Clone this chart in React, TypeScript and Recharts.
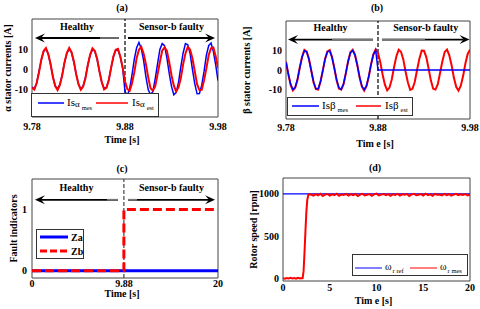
import React from 'react';
import { LineChart, Line, XAxis, YAxis, ReferenceLine, ReferenceArea, Legend } from 'recharts';

const FONT = '"Liberation Serif", "Times New Roman", Times, serif';

// ---------- panel (a) / (b) : stator currents, time 9.78 .. 9.98 s ----------
const timeFast = [
  9.78, 9.7825, 9.785, 9.7875, 9.79, 9.7925, 9.795, 9.7975, 9.8, 9.8025,
  9.805, 9.8075, 9.81, 9.8125, 9.815, 9.8175, 9.82, 9.8225, 9.825, 9.8275,
  9.83, 9.8325, 9.835, 9.8375, 9.84, 9.8425, 9.845, 9.8475, 9.85, 9.8525,
  9.855, 9.8575, 9.86, 9.8625, 9.865, 9.8675, 9.87, 9.8725, 9.875, 9.8775,
  9.88, 9.8825, 9.885, 9.8875, 9.89, 9.8925, 9.895, 9.8975, 9.9, 9.9025,
  9.905, 9.9075, 9.91, 9.9125, 9.915, 9.9175, 9.92, 9.9225, 9.925, 9.9275,
  9.93, 9.9325, 9.935, 9.9375, 9.94, 9.9425, 9.945, 9.9475, 9.95, 9.9525,
  9.955, 9.9575, 9.96, 9.9625, 9.965, 9.9675, 9.97, 9.9725, 9.975, 9.9775,
  9.98,
];
const alphaMes = [
  -9.0, -9.9, -7.1, -1.2, 4.3, 8.9, 10.0, 7.6, 2.0, -3.7,
  -8.6, -9.8, -7.7, -2.7, 3.3, 7.9, 9.9, 8.2, 3.4, -2.6,
  -7.5, -10.1, -8.5, -4.1, 1.9, 7.0, 9.7, 8.9, 4.8, -1.0,
  -6.6, -9.6, -9.3, -5.4, 0.4, 6.0, 9.5, 9.4, 6.2, 0.3,
  -11.3, -13.2, -9.8, -3.0, 4.9, 10.6, 13.3, 10.2, 4.3, -3.9,
  -10.4, -12.8, -11.2, -4.8, 2.6, 9.8, 12.7, 11.7, 5.7, -2.1,
  -8.7, -12.9, -11.7, -6.9, 1.1, 8.0, 12.7, 12.1, 7.7, -0.2,
  -7.3, -12.4, -12.3, -8.1, -1.2, 6.9, 11.7, 13.0, 8.8, 2.2,
  -5.8,
];
const alphaEst = [
  -9.4, -10.3, -7.0, -1.8, 4.8, 9.0, 10.5, 7.4, 2.5, -4.1,
  -8.5, -10.5, -8.0, -3.2, 3.4, 8.1, 10.5, 8.4, 3.9, -2.7,
  -7.6, -10.4, -8.8, -4.6, 2.0, 7.1, 10.3, 9.1, 5.3, -1.2,
  -6.5, -10.2, -9.4, -5.9, 0.5, 6.3, 9.6, 10.1, 6.1, 0.7,
  -6.1, -10.0, -10.9, -7.2, -1.6, 5.4, 9.6, 11.1, 7.8, 2.4,
  -4.3, -9.6, -10.8, -8.7, -2.7, 3.5, 9.2, 10.8, 9.2, 3.5,
  -3.1, -8.3, -11.2, -9.2, -4.7, 2.3, 7.8, 11.1, 9.6, 5.4,
  -1.1, -7.6, -10.5, -10.4, -5.7, 0.3, 7.0, 10.3, 10.7, 6.4,
  0.5,
];
const betaMes = [
  4.0, -1.8, -7.2, -9.9, -8.9, -4.6, 1.1, 6.7, 9.8, 9.2,
  5.3, -0.5, -6.1, -9.6, -9.5, -5.9, -0.3, 5.5, 9.3, 9.7,
  6.5, 1.0, -4.9, -9.0, -9.9, -7.1, -1.7, 4.3, 8.7, 9.9,
  7.6, 2.4, -3.6, -8.3, -10.0, -8.0, -3.1, 2.9, 7.9, 10.0,
  0, 0, 0, 0, 0, 0, 0, 0, 0, 0,
  0, 0, 0, 0, 0, 0, 0, 0, 0, 0,
  0, 0, 0, 0, 0, 0, 0, 0, 0, 0,
  0, 0, 0, 0, 0, 0, 0, 0, 0, 0,
  0,
];
const betaEst = [
  4.3, -2.1, -7.6, -10.4, -9.1, -5.0, 1.4, 6.8, 10.3, 9.4,
  5.6, -0.4, -6.4, -9.8, -10.0, -6.0, -0.3, 5.8, 9.5, 10.2,
  6.6, 1.1, -5.2, -9.5, -10.0, -7.4, -1.7, 4.5, 9.1, 10.3,
  7.7, 2.6, -3.8, -8.5, -10.5, -8.2, -3.3, 3.1, 8.0, 10.5,
  8.6, 4.0, -2.3, -7.5, -10.4, -9.0, -4.7, 1.6, 7.0, 10.3,
  9.3, 5.4, -0.9, -6.4, -10.1, -9.6, -6.0, 0.1, 5.8, 9.9,
  9.8, 6.6, 0.7, -5.4, -9.6, -10.0, -7.2, -1.4, 4.5, 9.2,
  10.4, 7.5, 2.4, -4.0, -8.6, -10.5, -8.0, -3.1, 3.3, 8.2,
  10.4,
];
const fastTicks = [9.78, 9.88, 9.98];
const currentTicks = [-10, 0, 10];
const faultTime = 9.88;

// ---------- panel (c) : fault indicators ----------
const indicatorTime = [0, 9.88, 9.88, 20];
const zaValues = [0, 0, 0, 0];
const zbValues = [0, 0, 1, 1];
const indicatorXTicks = [0, 9.88, 20];
const indicatorYTicks = [0, 1];

// ---------- panel (d) : rotor speed ----------
const refTime = [0, 20];
const refSpeed = [1000, 1000];
const speedTime = [
  0, 0.2, 0.4, 0.6, 0.8, 1, 1.2, 1.4, 1.6, 1.8, 2, 2.1, 2.2, 2.3, 2.4, 2.5, 2.6, 2.7, 2.8,
  3, 3.25, 3.5, 3.75, 4, 4.25, 4.5, 4.75, 5, 5.25, 5.5, 5.75, 6, 6.25, 6.5, 6.75,
  7, 7.25, 7.5, 7.75, 8, 8.25, 8.5, 8.75, 9, 9.25, 9.5, 9.75, 10, 10.25, 10.5, 10.75,
  11, 11.25, 11.5, 11.75, 12, 12.25, 12.5, 12.75, 13, 13.25, 13.5, 13.75, 14, 14.25, 14.5, 14.75,
  15, 15.25, 15.5, 15.75, 16, 16.25, 16.5, 16.75, 17, 17.25, 17.5, 17.75, 18, 18.25, 18.5, 18.75,
  19, 19.25, 19.5, 19.75, 20,
];
const speedMes = [
  8, 2, 10, 4, 12, 3, 9, 1, 11, 5, 7, 6, 90, 310, 560, 790, 930, 985, 995,
  992, 978, 996, 983, 1000, 975, 990, 998, 980, 994,
  985, 1001, 976, 992, 987, 999, 979, 995, 983, 997,
  974, 991, 1000, 982, 989, 996, 977, 993, 1002, 981,
  990, 998, 984, 995, 976, 993, 986, 1000, 980, 994,
  988, 997, 975, 992, 999, 983, 990, 996, 979, 1001,
  985, 994, 977, 998, 988, 992, 981, 999, 984, 995,
  978, 990, 1000, 983, 993, 987, 997, 980, 991,
];
const speedXTicks = [0, 5, 10, 15, 20];
const speedYTicks = [0, 500, 1000];

const BLUE = '#0000ff';
const RED = '#ff0000';

const dataA = timeFast.map((t, i) => ({ t, mes: alphaMes[i], est: alphaEst[i] }));
const dataB = timeFast.map((t, i) => ({ t, mes: betaMes[i], est: betaEst[i] }));
const dataC = indicatorTime.map((t, i) => ({ t, za: zaValues[i], zb: zbValues[i] }));
const dataRef = refTime.map((t, i) => ({ t, v: refSpeed[i] }));
const dataSpeed = speedTime.map((t, i) => ({ t, v: speedMes[i] }));

const tickStyle = { fontSize: 10, fontFamily: FONT, fontWeight: 'bold', fill: '#000' };

const xLabel = (text: string, baseline: number) => ({
  content: (p: any) => {
    const vb = p.viewBox || {};
    return (
      <text x={vb.x + vb.width / 2 - 3} y={baseline} textAnchor="middle" fontFamily={FONT}
        fontWeight="bold" fontSize={10} fill="#000">{text}</text>
    );
  },
});

const yLabel = (text: any, x: number) => ({
  content: (p: any) => {
    const vb = p.viewBox || {};
    const cy = vb.y + vb.height / 2;
    return (
      <text transform={`translate(${x},${cy}) rotate(-90)`} textAnchor="middle" dominantBaseline="central"
        fontFamily={FONT} fontWeight="bold" fontSize={10} fill="#000">{text}</text>
    );
  },
});

const makeArrow = (label: string, grayLen: number) => (props: any) => {
  const { x1, y1, x2, y2 } = props;
  const dir = x2 > x1 ? 1 : -1;
  const back = x2 - dir * 10;
  const notch = x2 - dir * 6;
  return (
    <g>
      <line x1={x1} y1={y1} x2={notch} y2={y2} stroke="#000" strokeWidth={1.8} />
      {grayLen > 0 && (
        <line x1={x1} y1={y1} x2={x1 + dir * grayLen} y2={y1} stroke="#777" strokeWidth={1.8} />
      )}
      <path d={`M${x2},${y2} L${back},${y2 - 4.5} L${notch},${y2} L${back},${y2 + 4.5} Z`} fill="#000" />
      <text x={(x1 + x2) / 2} y={y1 - 12} textAnchor="middle" dominantBaseline="central"
        fontFamily={FONT} fontWeight="bold" fontSize={10} fill="#000">{label}</text>
    </g>
  );
};

const LegendIs = ({ greek, w, h, b1, b2, lineY, tx1, tx2, greekSmall }: any) => (
  <svg width={w} height={h} style={{ display: 'block' }}>
    <rect x={0.5} y={0.5} width={w - 1} height={h - 1} fill="#fff" stroke="#333" />
    <line x1={b1[0]} x2={b1[1]} y1={lineY} y2={lineY} stroke={BLUE} strokeWidth={1.5} />
    <text x={tx1} y={lineY + 3} fontFamily={FONT} fontSize={11} fill="#000">
      Is<tspan fontSize={greekSmall ? 9 : 11} dy={greekSmall ? 1 : 0}>{greek}</tspan>
      <tspan fontSize={6.5} dy={3} dx={2}>mes</tspan>
    </text>
    <line x1={b2[0]} x2={b2[1]} y1={lineY} y2={lineY} stroke={RED} strokeWidth={1.5} />
    <text x={tx2} y={lineY + 3} fontFamily={FONT} fontSize={11} fill="#000">
      Is<tspan fontSize={greekSmall ? 9 : 11} dy={greekSmall ? 1 : 0}>{greek}</tspan>
      <tspan fontSize={6.5} dy={3} dx={2}>est</tspan>
    </text>
  </svg>
);

const LegendZ = () => (
  <svg width={48} height={30} style={{ display: 'block' }}>
    <rect x={0.5} y={0.5} width={47} height={29} fill="#fff" stroke="#333" />
    <line x1={4} x2={32} y1={8} y2={8} stroke={BLUE} strokeWidth={3} />
    <text x={35} y={11.5} fontFamily={FONT} fontWeight="bold" fontSize={10} fill="#000">Za</text>
    <line x1={4} x2={32} y1={22} y2={22} stroke={RED} strokeWidth={3} strokeDasharray="7 3" />
    <text x={35} y={25.5} fontFamily={FONT} fontWeight="bold" fontSize={10} fill="#000">Zb</text>
  </svg>
);

const LegendW = () => (
  <svg width={116} height={22} style={{ display: 'block' }}>
    <rect x={0.5} y={0.5} width={115} height={21} fill="#fff" stroke="#333" />
    <line x1={3} x2={30} y1={14} y2={14} stroke={BLUE} strokeWidth={1} />
    <text x={33} y={16} fontFamily={FONT} fontSize={10} fill="#000">
      ω<tspan fontSize={6.5} dy={3} dx={1}>r ref</tspan>
    </text>
    <line x1={58} x2={85} y1={14} y2={14} stroke={RED} strokeWidth={1} />
    <text x={88} y={16} fontFamily={FONT} fontSize={10} fill="#000">
      ω<tspan fontSize={6.5} dy={3} dx={1}>r mes</tspan>
    </text>
  </svg>
);

const legendProps = (left: number, top: number, w: number, h: number, node: any) => ({
  verticalAlign: 'middle' as const,
  align: 'center' as const,
  layout: 'vertical' as const,
  wrapperStyle: { left, top, width: w, height: h, margin: 0, padding: 0 },
  content: () => node,
});

const Title = ({ x, y, text }: any) => (
  <text x={x} y={y} textAnchor="middle" dominantBaseline="central" fontFamily={FONT}
    fontWeight="bold" fontSize={10} fill="#000">{text}</text>
);

export default function App() {
  return (
    <div style={{ position: 'absolute', left: 0, top: 0, width: 480, height: 309, background: '#fff', overflow: 'hidden' }}>
      {/* (a) */}
      <div style={{ position: 'absolute', left: 0, top: 0 }}>
        <LineChart width={240} height={155} data={dataA} margin={{ top: 19, right: 22, bottom: 0, left: 0 }}>
          <XAxis dataKey="t" type="number" domain={[9.78, 9.98]} ticks={fastTicks} allowDataOverflow
            height={38} axisLine={false} tickLine={false} tickSize={4} tickMargin={2} tick={tickStyle}
            label={xLabel('Time [s]', 143)} />
          <YAxis type="number" domain={[-24, 25]} ticks={currentTicks} allowDataOverflow width={32}
            axisLine={false} tickLine={false} tickSize={3} tickMargin={1} tick={tickStyle}
            label={yLabel('α  stator currents [A]', 7)} />
          <ReferenceArea x1={9.78} x2={9.98} y1={-24} y2={25} fill="none" fillOpacity={0} stroke="#444" ifOverflow="visible" />
          <ReferenceLine x={faultTime} stroke="#000" strokeWidth={1.2} strokeDasharray="4 2" />
          <Line dataKey="mes" stroke={BLUE} strokeWidth={1.5} dot={false} isAnimationActive={false} />
          <Line dataKey="est" stroke={RED} strokeWidth={2} dot={false} isAnimationActive={false} />
          <ReferenceLine segment={[{ x: 9.8735, y: 15.5 }, { x: 9.7832, y: 15.5 }]} shape={makeArrow('Healthy', 19)} />
          <ReferenceLine segment={[{ x: 9.8832, y: 15.5 }, { x: 9.9768, y: 15.5 }]} shape={makeArrow('Sensor-b faulty', 0)} />
          <Legend {...legendProps(31, 93, 128, 24,
            <LegendIs greek="α" w={128} h={24} b1={[7, 33]} b2={[65, 97]} lineY={10} tx1={36} tx2={101} greekSmall />)} />
        </LineChart>
      </div>

      {/* (b) */}
      <div style={{ position: 'absolute', left: 240, top: 0 }}>
        <LineChart width={240} height={155} data={dataB} margin={{ top: 21, right: 10, bottom: 0, left: 0 }}>
          <XAxis dataKey="t" type="number" domain={[9.78, 9.98]} ticks={fastTicks} allowDataOverflow
            height={36} axisLine={false} tickLine={false} tickSize={3} tickMargin={2} tick={tickStyle}
            label={xLabel('Tim e [s]', 147)} />
          <YAxis type="number" domain={[-25, 25]} ticks={currentTicks} allowDataOverflow width={46}
            axisLine={false} tickLine={false} tickSize={3} tickMargin={1} tick={tickStyle}
            label={yLabel('β  stator currents [A]', 6)} />
          <ReferenceArea x1={9.78} x2={9.98} y1={-25} y2={25} fill="none" fillOpacity={0} stroke="#444" ifOverflow="visible" />
          <ReferenceLine x={faultTime} stroke="#000" strokeWidth={1.2} strokeDasharray="4 2" />
          <Line dataKey="est" stroke={RED} strokeWidth={2} dot={false} isAnimationActive={false} />
          <Line dataKey="mes" stroke={BLUE} strokeWidth={1.5} dot={false} isAnimationActive={false} />
          <ReferenceLine segment={[{ x: 9.8746, y: 15.5 }, { x: 9.7822, y: 15.5 }]} shape={makeArrow('Healthy', 41)} />
          <ReferenceLine segment={[{ x: 9.8843, y: 15.5 }, { x: 9.9795, y: 15.5 }]} shape={makeArrow('Sensor-b faulty', 43)} />
          <Legend {...legendProps(47, 97, 126, 19,
            <LegendIs greek="β" w={126} h={19} b1={[5, 32]} b2={[69, 94]} lineY={9} tx1={35} tx2={98} />)} />
        </LineChart>
      </div>

      {/* (c) */}
      <div style={{ position: 'absolute', left: 0, top: 155 }}>
        <LineChart width={240} height={154} data={dataC} margin={{ top: 24, right: 22, bottom: 0, left: 0 }}>
          <XAxis dataKey="t" type="number" domain={[0, 20]} ticks={indicatorXTicks} allowDataOverflow
            height={31} axisLine={false} tickLine={false} tickSize={1} tickMargin={1} tick={tickStyle}
            label={xLabel('Time [s]', 142)} />
          <YAxis type="number" domain={[-0.12, 1.5]} ticks={indicatorYTicks} allowDataOverflow width={32}
            axisLine={false} tickLine={false} tickSize={3} tickMargin={2} tick={tickStyle}
            label={yLabel('Fault indicators', 13)} />
          <ReferenceArea x1={0} x2={20} y1={-0.12} y2={1.5} fill="none" fillOpacity={0} stroke="#444" ifOverflow="visible" />
          <ReferenceLine x={faultTime} stroke="#444" strokeWidth={1.2} strokeDasharray="4 2" />
          <Line dataKey="za" stroke={BLUE} strokeWidth={3} dot={false} isAnimationActive={false} />
          <Line dataKey="zb" stroke={RED} strokeWidth={3} strokeDasharray="9 4" dot={false} isAnimationActive={false} />
          <ReferenceLine segment={[{ x: 9.25, y: 1.16 }, { x: 0.32, y: 1.16 }]} shape={makeArrow('Healthy', 11)} />
          <ReferenceLine segment={[{ x: 10.32, y: 1.16 }, { x: 19.68, y: 1.16 }]} shape={makeArrow('Sensor-b faulty', 9)} />
          <Legend {...legendProps(36, 74, 48, 30, <LegendZ />)} />
        </LineChart>
      </div>

      {/* (d) */}
      <div style={{ position: 'absolute', left: 240, top: 155 }}>
        <LineChart width={240} height={154} margin={{ top: 23, right: 10, bottom: 0, left: 0 }}>
          <XAxis dataKey="t" type="number" domain={[0, 20]} ticks={speedXTicks} allowDataOverflow
            height={28} axisLine={false} tickLine={false} tickSize={2} tickMargin={1} tick={tickStyle}
            label={xLabel('Tim e [s]', 149)} />
          <YAxis type="number" domain={[-26, 1186]} ticks={speedYTicks} allowDataOverflow width={43}
            axisLine={false} tickLine={false} tickSize={3} tickMargin={1} tick={tickStyle}
            label={yLabel('Rotor speed [rpm]', 13)} />
          <ReferenceArea x1={0} x2={20} y1={-26} y2={1186} fill="none" fillOpacity={0} stroke="#444" ifOverflow="visible" />
          <Line data={dataRef} dataKey="v" stroke={BLUE} strokeWidth={1.2} dot={false} isAnimationActive={false} />
          <Line data={dataSpeed} dataKey="v" stroke={RED} strokeWidth={2} dot={false} isAnimationActive={false} />
          <Legend {...legendProps(112, 99, 116, 22, <LegendW />)} />
        </LineChart>
      </div>

      <svg width={480} height={309} style={{ position: 'absolute', left: 0, top: 0, pointerEvents: 'none' }}>
        <Title x={122} y={7} text="(a)" />
        <Title x={377} y={7} text="(b)" />
        <Title x={122} y={168} text="(c)" />
        <Title x={375} y={167} text="(d)" />
      </svg>
    </div>
  );
}
